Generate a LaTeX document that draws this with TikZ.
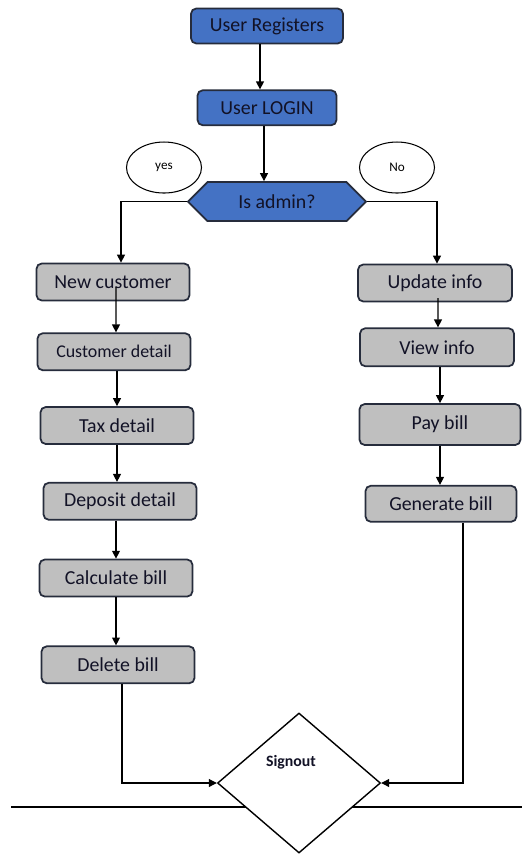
\documentclass[tikz,border=0pt]{standalone}
\usepackage{fontspec}
\setmainfont{Carlito}
\usetikzlibrary{shapes.geometric, shapes.symbols, arrows.meta, positioning}

\definecolor{boxblue}{RGB}{68,114,196}
\definecolor{boxgray}{RGB}{191,191,191}
\definecolor{edgedark}{RGB}{38,44,60}
\definecolor{inkdark}{RGB}{18,18,38}

\begin{document}
\begin{tikzpicture}[
    font=\fontsize{11.3}{13.6}\selectfont,
    entry/.style={rectangle, rounded corners=3pt, minimum height=0.7cm, text centered, draw=edgedark, fill=boxblue, text=inkdark, line width=1pt},
    task/.style={rectangle, rounded corners=3pt, minimum width=3.06cm, minimum height=0.74cm, text centered, draw=edgedark, fill=boxgray, text=inkdark, line width=1pt},
    decision/.style={signal, signal to=west and east, signal pointer angle=90, minimum width=3.56cm, minimum height=0.78cm, draw=edgedark, fill=boxblue, text=inkdark, line width=1pt},
    tag/.style={ellipse, minimum width=1.5cm, minimum height=1.02cm, draw=black, line width=0.6pt, font=\fontsize{7.5}{9}\selectfont},
    arrow/.style={-{Triangle[length=4.5pt, width=4.5pt]}, line width=0.6pt}
]
\useasboundingbox (0,0) rectangle (10.44,-17.08);

% Login and role check
\node[entry, minimum width=3.04cm] (reg) at (5.34,-0.52) {User Registers};
\node[entry, minimum width=2.78cm, below=0.9cm of reg] (login) {User LOGIN};
\node[decision, below=1.1cm of login, xshift=0.2cm] (adm) {Is admin?};
\node[tag] (yes) at ([shift={(-2.26,0.68)}]adm.center) {yes};
\node[tag] (no) at ([shift={(2.4,0.68)}]adm.center) {No};

% Admin path
\node[task] (nc) at (2.26,-5.64) {New customer};
\node[task, font=\fontsize{10.2}{12}\selectfont, below=0.62cm of nc, xshift=0.02cm] (cd) {Customer detail};
\node[task, below=0.7cm of cd, xshift=0.06cm] (td) {Tax detail};
\node[task, below=0.74cm of td, xshift=0.06cm] (dd) {Deposit detail};
\node[task, below=0.76cm of dd, xshift=-0.08cm] (cb) {Calculate bill};
\node[task, below=0.96cm of cb, xshift=0.04cm] (db) {Delete bill};

% User path
\node[task, minimum width=3.08cm] (ui) at (8.7,-5.66) {Update info};
\node[task, minimum width=3.08cm, minimum height=0.76cm, below=0.5cm of ui, xshift=0.04cm] (vi) {View info};
\node[task, minimum width=3.22cm, minimum height=0.82cm, below=0.72cm of vi, xshift=0.06cm] (pb) {Pay bill};
\node[task, minimum width=3.02cm, minimum height=0.72cm, below=0.78cm of pb, xshift=0.02cm] (gb) {Generate bill};

% Exit
\draw[line width=0.6pt] (0.22,-16.14) -- (10.44,-16.14);
\node[diamond, minimum width=3.26cm, minimum height=2.8cm, draw=black, fill=white, line width=0.8pt] (so) at (5.98,-15.66) {};
\node[font=\bfseries\fontsize{9}{11}\selectfont, text=inkdark] (sotext) at ([shift={(-0.16,0.42)}]so.center) {Signout};

% Arrows
\draw [arrow] ([xshift=-0.14cm]reg.south) -- ([xshift=-0.14cm]login.north);
\draw [arrow] ([xshift=-0.06cm]login.south) -- ([xshift=-0.26cm]adm.north);
\draw [arrow] (adm.west) -| ([xshift=0.16cm]nc.north);
\draw [arrow] (adm.east) -| ([xshift=0.04cm]ui.north);

\draw [arrow] ([shift={(0.06,-0.1)}]nc.center) -- ([xshift=0.04cm]cd.north);
\draw [arrow] (td.north |- cd.south) -- (td.north);
\draw [arrow] (td.south) -- (td.south |- dd.north);
\draw [arrow] (cb.north |- dd.south) -- (cb.north);
\draw [arrow] (cb.south) -- (cb.south |- db.north);
\draw [arrow] ([xshift=0.08cm]db.south) |- (so.west);

\draw [arrow] ([shift={(0.06,-0.3)}]ui.center) -- ([xshift=0.02cm]vi.north);
\draw [arrow] (pb.north |- vi.south) -- (pb.north);
\draw [arrow] (pb.south) -- (pb.south |- gb.north);
\draw [arrow] ([xshift=0.44cm]gb.south) |- (so.east);

\end{tikzpicture}
\end{document}
